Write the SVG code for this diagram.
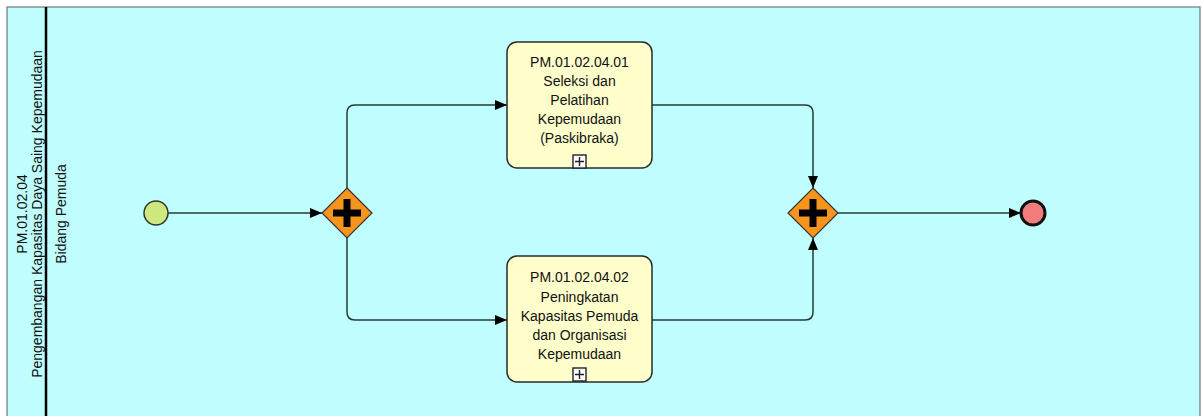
<svg xmlns="http://www.w3.org/2000/svg" width="1202" height="416" viewBox="0 0 1202 416">
<style>
  .lbl{font-family:"Liberation Sans",Arial,sans-serif;font-size:14px;fill:#111;text-anchor:middle}
  .task{fill:#ffffcc;stroke:#2a2a2a;stroke-width:1.5}
  .gw{fill:#f7941d;stroke:#333;stroke-width:1.2}
  .plus{stroke:#000;stroke-width:7;fill:none}
  .flow{fill:none;stroke:#263a3a;stroke-width:1.5;marker-end:url(#arr)}
  .mk{fill:#fff;stroke:#222;stroke-width:1.4}
</style>
<defs>
  <marker id="arr" markerWidth="12" markerHeight="10" refX="12" refY="5" orient="auto" markerUnits="userSpaceOnUse">
    <path d="M0,0 L12,5 L0,10 Z" fill="#000"/>
  </marker>
</defs>
<g id="pool">
  <rect x="7" y="7" width="1193" height="415" fill="#bfffff" stroke="#6a7a7a" stroke-width="1.2"/>
  <line x1="46" y1="7" x2="46" y2="416" stroke="#000" stroke-width="2.5"/>
  <text class="lbl" transform="translate(27,214) rotate(-90)">PM.01.02.04</text>
  <text class="lbl" transform="translate(42,214) rotate(-90)">Pengembangan Kapasitas Daya Saing Kepemudaan</text>
  <text class="lbl" transform="translate(66,214) rotate(-90)">Bidang Pemuda</text>
</g>
<g id="connectors">
  <path class="flow" d="M168,213 L322,213"/>
  <path class="flow" d="M347,188 L347,113 Q347,105 355,105 L507,105"/>
  <path class="flow" d="M347,238 L347,312 Q347,320 355,320 L507,320"/>
  <path class="flow" d="M652,105 L805,105 Q813,105 813,113 L813,188"/>
  <path class="flow" d="M652,320 L805,320 Q813,320 813,312 L813,238"/>
  <path class="flow" d="M838,213 L1021,213"/>
</g>
<g id="start">
  <circle cx="156" cy="213" r="12" fill="#cde87e" stroke="#333" stroke-width="1.5"/>
</g>
<g id="gateway1">
  <path class="gw" d="M347,188 L372,213 L347,238 L322,213 Z"/>
  <path class="plus" d="M333,213 H361 M347,199 V227"/>
</g>
<g id="task1">
  <rect class="task" x="507" y="42" width="145" height="126" rx="10"/>
  <text class="lbl" x="579.5" y="67">PM.01.02.04.01</text>
  <text class="lbl" x="579.5" y="86">Seleksi dan</text>
  <text class="lbl" x="579.5" y="105">Pelatihan</text>
  <text class="lbl" x="579.5" y="124">Kepemudaan</text>
  <text class="lbl" x="579.5" y="143">(Paskibraka)</text>
  <rect class="mk" x="573" y="155" width="13" height="13"/>
  <path d="M579.5,157 V166 M575,161.5 H584" stroke="#222" stroke-width="1.4"/>
</g>
<g id="task2">
  <rect class="task" x="507" y="256" width="145" height="126" rx="10"/>
  <text class="lbl" x="579.5" y="282">PM.01.02.04.02</text>
  <text class="lbl" x="579.5" y="302">Peningkatan</text>
  <text class="lbl" x="579.5" y="321">Kapasitas Pemuda</text>
  <text class="lbl" x="579.5" y="340">dan Organisasi</text>
  <text class="lbl" x="579.5" y="359">Kepemudaan</text>
  <rect class="mk" x="573" y="368" width="13" height="13"/>
  <path d="M579.5,370 V379 M575,374.5 H584" stroke="#222" stroke-width="1.4"/>
</g>
<g id="gateway2">
  <path class="gw" d="M813,188 L838,213 L813,238 L788,213 Z"/>
  <path class="plus" d="M799,213 H827 M813,199 V227"/>
</g>
<g id="end">
  <circle cx="1033" cy="213" r="12" fill="#f07c7c" stroke="#111" stroke-width="3"/>
</g>
</svg>
